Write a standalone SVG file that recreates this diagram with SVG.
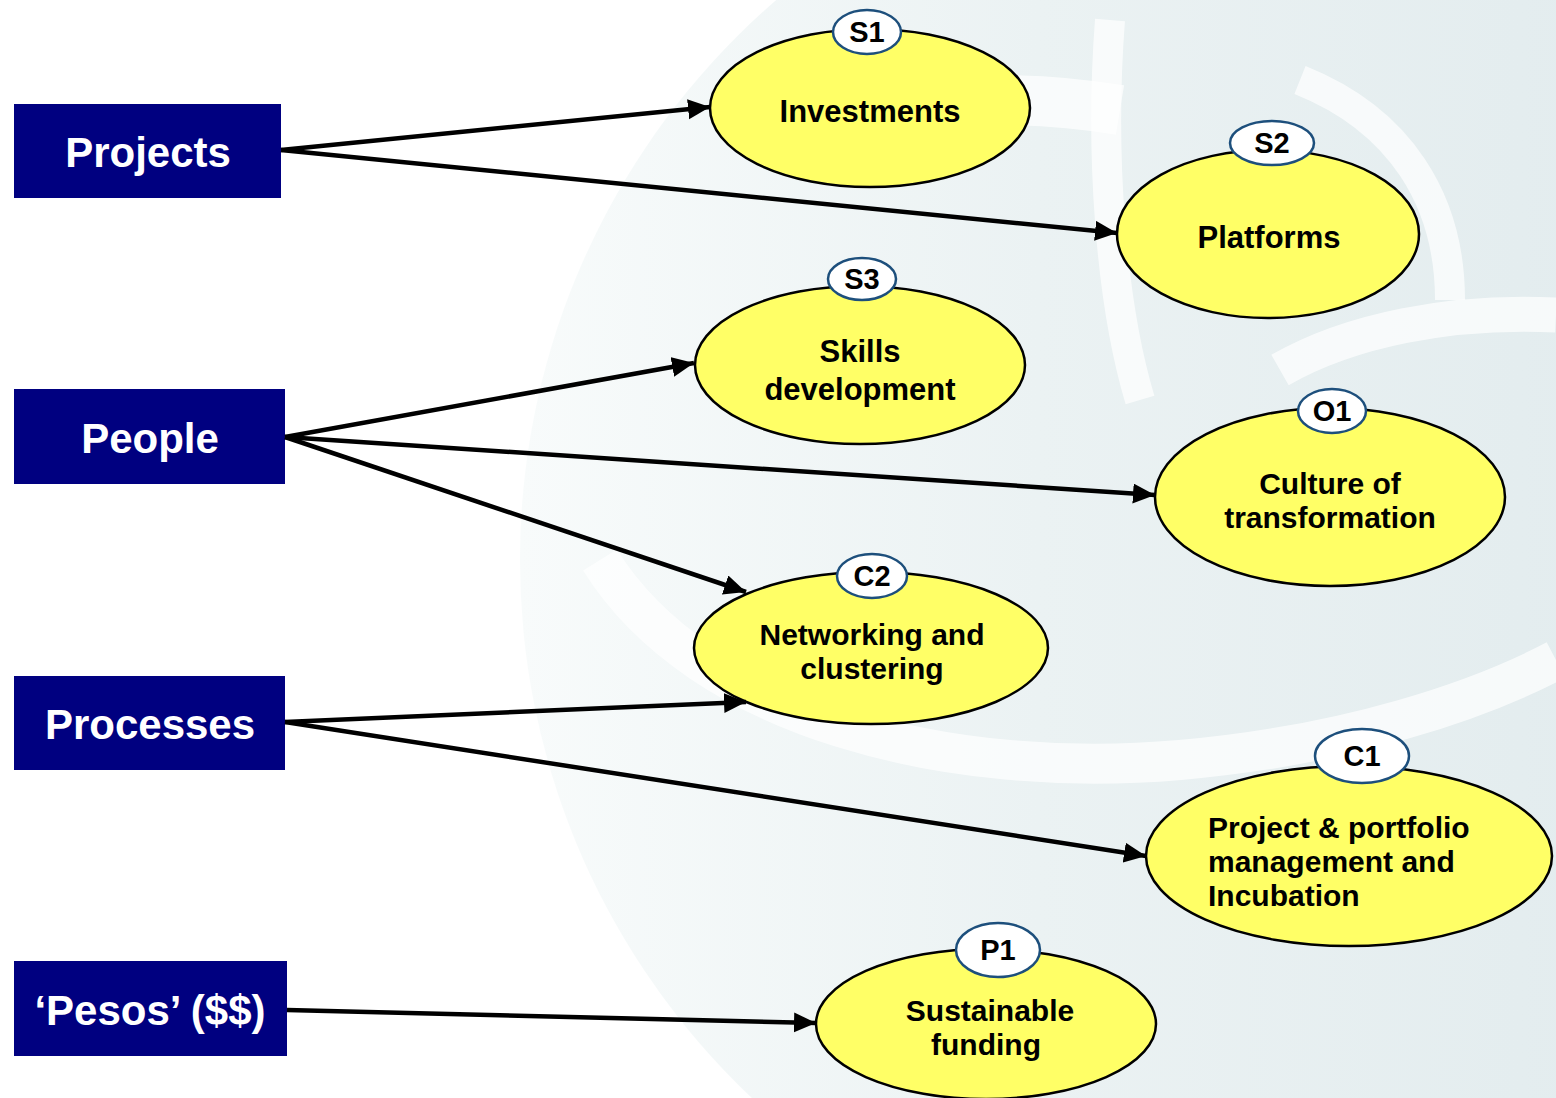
<svg xmlns="http://www.w3.org/2000/svg" width="1556" height="1098" viewBox="0 0 1556 1098">
<defs>
<linearGradient id="bgG" x1="0" y1="0" x2="1" y2="0">
<stop offset="0" stop-color="#f8fbfb"/>
<stop offset="0.35" stop-color="#ebf2f3"/>
<stop offset="1" stop-color="#dde8eb"/>
</linearGradient>
<marker id="ah" markerUnits="userSpaceOnUse" markerWidth="24" markerHeight="22" refX="22" refY="10" orient="auto">
<path d="M0,0 L22,10 L0,20 z" fill="#000"/>
</marker>
<style>
.box{fill:#000080}
.bt{fill:#fff;font-family:"Liberation Sans",Arial,sans-serif;font-weight:bold;font-size:42px;text-anchor:middle}
.el{fill:#ffff66;stroke:#000;stroke-width:2.5}
.bd{fill:#fff;stroke:#1d4f7c;stroke-width:2.5}
.t{fill:#000;font-family:"Liberation Sans",Arial,sans-serif;font-weight:bold;font-size:31px;text-anchor:middle}
.tl{fill:#000;font-family:"Liberation Sans",Arial,sans-serif;font-weight:bold;font-size:31px}
.t2{fill:#000;font-family:"Liberation Sans",Arial,sans-serif;font-weight:bold;font-size:30px;text-anchor:middle}
.bl{fill:#000;font-family:"Liberation Sans",Arial,sans-serif;font-weight:bold;font-size:29px;text-anchor:middle}
.cn{stroke:#000;stroke-width:4.5;fill:none;marker-end:url(#ah)}
.sw{fill:none;stroke:#fff;stroke-opacity:0.7}
</style>
</defs>
<rect width="1556" height="1098" fill="#fff"/>
<g id="background">
<circle cx="1260" cy="560" r="740" fill="url(#bgG)"/>
<path class="sw" stroke-width="40" d="M600,560 C700,720 950,780 1180,760 C1350,745 1480,700 1556,660"/>
<path class="sw" stroke-width="30" d="M1110,20 C1100,150 1110,300 1140,400"/>
<path class="sw" stroke-width="35" d="M1280,370 C1350,330 1450,310 1556,315"/>
<path class="sw" stroke-width="30" d="M1300,80 C1400,120 1450,200 1450,300"/>
<path class="sw" stroke-width="50" d="M760,140 C880,100 1000,90 1120,110"/>
</g>
<g id="node-projects"><rect class="box" x="14" y="104" width="267" height="94"/><text class="bt" x="148" y="167">Projects</text></g>
<g id="node-people"><rect class="box" x="14" y="389" width="271" height="95"/><text class="bt" x="150" y="453">People</text></g>
<g id="node-processes"><rect class="box" x="14" y="676" width="271" height="94"/><text class="bt" x="150" y="739">Processes</text></g>
<g id="node-pesos"><rect class="box" x="14" y="961" width="273" height="95"/><text class="bt" x="150" y="1025">‘Pesos’ ($$)</text></g>
<g id="node-s1"><ellipse class="el" cx="870" cy="108" rx="160" ry="79"/><ellipse class="bd" cx="867" cy="32" rx="34" ry="22"/><text class="bl" x="867" y="42">S1</text><text class="t" x="870" y="122">Investments</text></g>
<g id="node-s2"><ellipse class="el" cx="1268" cy="234" rx="151" ry="84"/><ellipse class="bd" cx="1272" cy="143" rx="42" ry="22"/><text class="bl" x="1272" y="153">S2</text><text class="t" x="1269" y="248">Platforms</text></g>
<g id="node-s3"><ellipse class="el" cx="860" cy="365" rx="165" ry="79"/><ellipse class="bd" cx="862" cy="279" rx="34" ry="21"/><text class="bl" x="862" y="289">S3</text><text class="t" x="860" y="362">Skills</text><text class="t" x="860" y="400">development</text></g>
<g id="node-o1"><ellipse class="el" cx="1330" cy="497" rx="175" ry="89"/><ellipse class="bd" cx="1332" cy="411" rx="34" ry="22"/><text class="bl" x="1332" y="421">O1</text><text class="t2" x="1330" y="494">Culture of</text><text class="t2" x="1330" y="528">transformation</text></g>
<g id="node-c2"><ellipse class="el" cx="871" cy="648" rx="177" ry="76"/><ellipse class="bd" cx="872" cy="576" rx="35" ry="22"/><text class="bl" x="872" y="586">C2</text><text class="t2" x="872" y="645">Networking and</text><text class="t2" x="872" y="679">clustering</text></g>
<g id="node-c1"><ellipse class="el" cx="1349" cy="856" rx="203" ry="90"/><ellipse class="bd" cx="1362" cy="756" rx="47" ry="27"/><text class="bl" x="1362" y="766">C1</text><text class="tl" x="1208" y="838" style="font-size:30px">Project &amp; portfolio</text><text class="tl" x="1208" y="872" style="font-size:30px">management and</text><text class="tl" x="1208" y="906" style="font-size:30px">Incubation</text></g>
<g id="node-p1"><ellipse class="el" cx="986" cy="1024" rx="170" ry="75"/><ellipse class="bd" cx="998" cy="950" rx="42" ry="27"/><text class="bl" x="998" y="960">P1</text><text class="t2" x="990" y="1021">Sustainable</text><text class="t2" x="986" y="1055">funding</text></g>
<g id="connectors">
<line class="cn" x1="281" y1="150" x2="710" y2="107"/>
<line class="cn" x1="281" y1="150" x2="1117" y2="233"/>
<line class="cn" x1="285" y1="437" x2="694" y2="363"/>
<line class="cn" x1="285" y1="437" x2="1155" y2="495"/>
<line class="cn" x1="285" y1="437" x2="746" y2="592"/>
<line class="cn" x1="285" y1="722" x2="746" y2="702"/>
<line class="cn" x1="285" y1="722" x2="1146" y2="856"/>
<line class="cn" x1="287" y1="1010" x2="816" y2="1023"/>
</g>
</svg>
